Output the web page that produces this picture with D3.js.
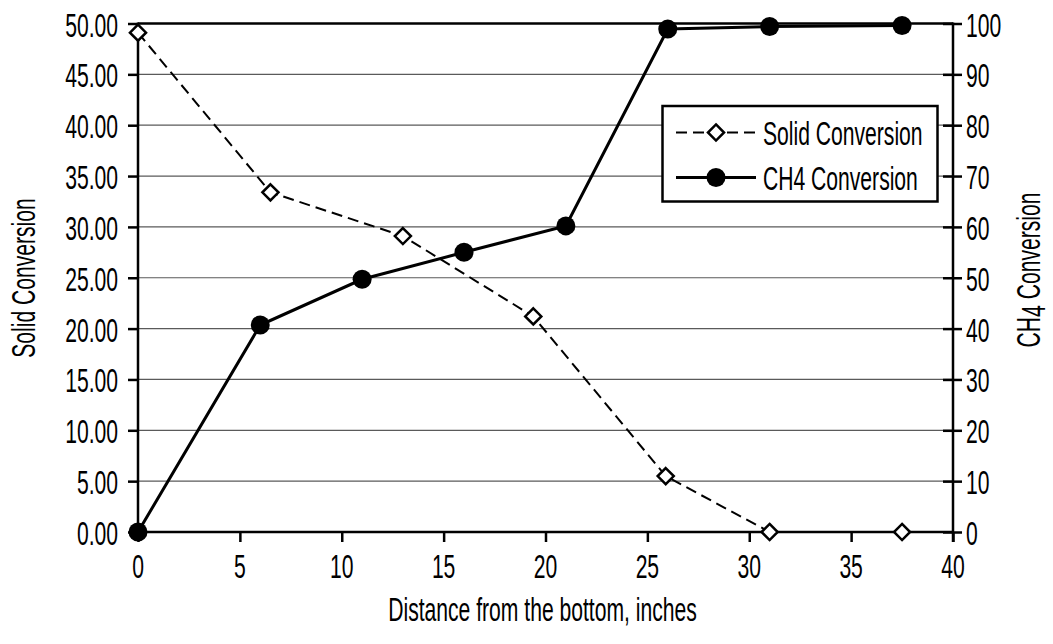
<!DOCTYPE html>
<html><head><meta charset="utf-8">
<script src="https://cdn.jsdelivr.net/npm/d3@7"></script>
<style>body{margin:0;background:#fff}svg{display:block}</style>
</head><body>
<svg id="c" width="1053" height="644"></svg>
<script>
const solidX = [0, 6.5, 13, 19.4, 25.9, 31, 37.5];
const solidY = [49.1, 33.4, 29.1, 21.2, 5.5, 0, 0];
const ch4X = [0, 6, 11, 16, 21, 26, 31, 37.5];
const ch4Y = [0, 40.7, 49.7, 55.0, 60.2, 98.9, 99.4, 99.6];
const xTicks = [0, 5, 10, 15, 20, 25, 30, 35, 40];
const leftTicks = [0, 5, 10, 15, 20, 25, 30, 35, 40, 45, 50];
const rightTicks = [0, 10, 20, 30, 40, 50, 60, 70, 80, 90, 100];
const seriesNames = ["Solid Conversion", "CH4 Conversion"];

const FONT = "'Liberation Sans Narrow','Liberation Sans',Arial,sans-serif";
const FS = 33, SX = 0.64;
const svg = d3.select("#c");
const L = 138, R = 953, T = 23.5, B = 532;
const x = d3.scaleLinear().domain([0, 40]).range([L, R]);
const yL = d3.scaleLinear().domain([0, 50]).range([B, T]);
const yR = d3.scaleLinear().domain([0, 100]).range([B, T]);

function txt(g, s, px, py, anchor, rot) {
  const t = g.append("text")
    .attr("transform", `translate(${px},${py})` + (rot ? ` rotate(${rot})` : "") + ` scale(${SX},1)`)
    .attr("text-anchor", anchor)
    .attr("font-family", FONT).attr("font-size", FS).attr("fill", "#000");
  if (typeof s === "string") t.text(s); else s(t);
  return t;
}

// gridlines
svg.append("g").selectAll("line").data(leftTicks.filter(d => d > 0 && d < 50)).join("line")
  .attr("x1", L).attr("x2", R).attr("y1", d => yL(d)).attr("y2", d => yL(d))
  .attr("stroke", "#5a5a5a").attr("stroke-width", 1.2);

// axes
const ax = svg.append("g");
ax.append("g").attr("transform", `translate(${L},0)`)
  .call(d3.axisLeft(yL).tickValues(leftTicks).tickSize(10).tickFormat(""));
const gr = ax.append("g").attr("transform", `translate(${R},0)`)
  .call(d3.axisRight(yR).tickValues(rightTicks).tickSize(9).tickFormat(""));
gr.selectAll(".tick line").attr("x1", -10);
ax.append("g").attr("transform", `translate(0,${B})`)
  .call(d3.axisBottom(x).tickValues(xTicks).tickSize(10).tickFormat(""));
ax.selectAll(".domain").remove();
ax.selectAll(".tick line").attr("stroke", "#000").attr("stroke-width", 2.5);
// frame
svg.append("line").attr("x1", L).attr("x2", R).attr("y1", T).attr("y2", T).attr("stroke", "#000").attr("stroke-width", 2.5);
svg.append("line").attr("x1", L).attr("x2", R).attr("y1", B).attr("y2", B).attr("stroke", "#000").attr("stroke-width", 2.5);
svg.append("line").attr("x1", L).attr("x2", L).attr("y1", T - 1).attr("y2", B + 1).attr("stroke", "#000").attr("stroke-width", 2.5);
svg.append("line").attr("x1", R).attr("x2", R).attr("y1", T - 1).attr("y2", B + 10).attr("stroke", "#000").attr("stroke-width", 2.5);

// tick labels
const lab = svg.append("g");
leftTicks.forEach(d => txt(lab, d.toFixed(2), 118, yL(d) + 13, "end"));
rightTicks.forEach(d => txt(lab, String(d), 966, yR(d) + 13, "start"));
xTicks.forEach(d => txt(lab, String(d), x(d), 577.5, "middle"));

// axis titles
txt(lab, "Solid Conversion", 35, 278, "middle", -90);
txt(lab, t => { t.append("tspan").text("CH"); t.append("tspan").attr("dy", 5).text("4"); t.append("tspan").attr("dy", -5).text(" Conversion"); }, 1040, 270, "middle", -90);
txt(lab, "Distance from the bottom, inches", 542.5, 620.5, "middle");

// series
const solidData = solidX.map((v, i) => [v, solidY[i]]);
const ch4Data = ch4X.map((v, i) => [v, ch4Y[i]]);
svg.append("path").datum(solidData)
  .attr("d", d3.line().x(d => x(d[0])).y(d => yL(d[1])))
  .attr("fill", "none").attr("stroke", "#000").attr("stroke-width", 2).attr("stroke-dasharray", "11,6");
const diamond = d3.symbol().type(d3.symbolDiamond2).size(165);
svg.append("g").selectAll("path").data(solidData).join("path")
  .attr("d", diamond()).attr("transform", d => `translate(${x(d[0])},${yL(d[1])})`)
  .attr("fill", "#fff").attr("stroke", "#000").attr("stroke-width", 2.5);

svg.append("path").datum(ch4Data)
  .attr("d", d3.line().x(d => x(d[0])).y(d => yR(d[1])))
  .attr("fill", "none").attr("stroke", "#000").attr("stroke-width", 3);
svg.append("g").selectAll("circle").data(ch4Data).join("circle")
  .attr("cx", d => x(d[0])).attr("cy", d => yR(d[1])).attr("r", 9.5).attr("fill", "#000");

// legend
const lg = svg.append("g");
lg.append("rect").attr("x", 662.5).attr("y", 106).attr("width", 275).attr("height", 95.5)
  .attr("fill", "#fff").attr("stroke", "#000").attr("stroke-width", 2.5);
const rows = [132.5, 177.5];
lg.append("line").attr("x1", 676).attr("x2", 756).attr("y1", rows[0]).attr("y2", rows[0])
  .attr("stroke", "#000").attr("stroke-width", 2).attr("stroke-dasharray", "11,6");
lg.append("path").attr("d", diamond()).attr("transform", `translate(716,${rows[0]})`)
  .attr("fill", "#fff").attr("stroke", "#000").attr("stroke-width", 2.5);
lg.append("line").attr("x1", 676).attr("x2", 756).attr("y1", rows[1]).attr("y2", rows[1])
  .attr("stroke", "#000").attr("stroke-width", 3);
lg.append("circle").attr("cx", 716).attr("cy", rows[1]).attr("r", 9.5).attr("fill", "#000");
seriesNames.forEach((n, i) => txt(lg, n, 763, rows[i] + 12, "start"));
</script>
</body></html>
